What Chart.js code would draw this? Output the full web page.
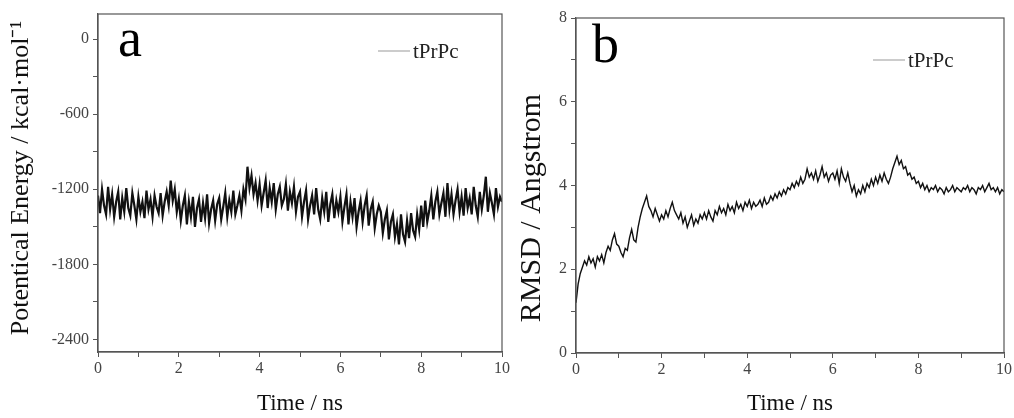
<!DOCTYPE html>
<html>
<head>
<meta charset="utf-8">
<script src="https://cdn.jsdelivr.net/npm/chart.js@4.4.1/dist/chart.umd.min.js"></script>
<style>
  body { margin: 0; background: #fff; }
  #wrap { position: relative; width: 1014px; height: 418px; }
  canvas { position: absolute; top: 0; }
  #energyChart { left: 0; }
  #rmsdChart { left: 512px; }
</style>
</head>
<body>
<div id="wrap">
  <canvas id="energyChart" width="512" height="418"></canvas>
  <canvas id="rmsdChart" width="502" height="418"></canvas>
</div>
<script>
// sampling of the trajectory (ns)
const sampleStep = 0.05;
const timeTicks = [0, 2, 4, 6, 8, 10];
const energyTicks = [-2400, -1800, -1200, -600, 0];
const rmsdTicks = [0, 2, 4, 6, 8];
const seriesName = "tPrPc";

// potential energy, kcal/mol
const energy = [
  -1250, -1390, -1200, -1330, -1400, -1180, -1360, -1240, -1420, -1300, -1220, -1440, -1270, -1380, -1190, -1350, -1410, -1230, -1330, -1440,
  -1260, -1380, -1300, -1430, -1210, -1360, -1280, -1420, -1250, -1340, -1390, -1230, -1410, -1300, -1220, -1330, -1130, -1290, -1200, -1380,
  -1280, -1450, -1330, -1250, -1480, -1300, -1420, -1260, -1500, -1350, -1280, -1460, -1310, -1430, -1240, -1470, -1360, -1290, -1450, -1320,
  -1270, -1440, -1340, -1230, -1420, -1290, -1380, -1210, -1400, -1330, -1250, -1370, -1200, -1280, -1020, -1190, -1090, -1240, -1150, -1290,
  -1160, -1330, -1230, -1130, -1350, -1190, -1300, -1150, -1360, -1240, -1180, -1330, -1280, -1160, -1370, -1220, -1310, -1180, -1380, -1260,
  -1220, -1420, -1300, -1210, -1440, -1330, -1250, -1400, -1190, -1360, -1440, -1270, -1380, -1220, -1460, -1320, -1240, -1430, -1290, -1380,
  -1260, -1460, -1340, -1240, -1480, -1300, -1420, -1270, -1500, -1380, -1290, -1460, -1330, -1250, -1490, -1360, -1300, -1510, -1400, -1330,
  -1380, -1550, -1440, -1370, -1600, -1460, -1400, -1580, -1480, -1640, -1400, -1560, -1620, -1450, -1590, -1390, -1530, -1580, -1400, -1520,
  -1330, -1500, -1290, -1460, -1370, -1250, -1440, -1300, -1220, -1400, -1310, -1230, -1420, -1150, -1360, -1240, -1400, -1290, -1200, -1380,
  -1260, -1410, -1190, -1350, -1270, -1400, -1180, -1330, -1420, -1220, -1360, -1250, -1100, -1380, -1230, -1310, -1400, -1190, -1340, -1260,
  -1300
];

// backbone RMSD, Angstrom
const rmsd = [
  1.20, 1.65, 1.90, 2.05, 2.20, 2.10, 2.30, 2.15, 2.25, 2.05, 2.30, 2.20, 2.35, 2.15, 2.40, 2.55, 2.45, 2.70, 2.85, 2.60,
  2.55, 2.40, 2.30, 2.50, 2.45, 2.75, 2.95, 2.70, 2.65, 3.00, 3.25, 3.45, 3.60, 3.75, 3.50, 3.40, 3.25, 3.45, 3.30, 3.15,
  3.30, 3.20, 3.40, 3.25, 3.45, 3.60, 3.40, 3.30, 3.20, 3.35, 3.10, 3.25, 3.00, 3.15, 3.30, 3.05, 3.20, 3.10, 3.30, 3.20,
  3.35, 3.20, 3.40, 3.25, 3.15, 3.40, 3.30, 3.50, 3.35, 3.45, 3.30, 3.55, 3.40, 3.50, 3.35, 3.60, 3.45, 3.55, 3.40, 3.60,
  3.50, 3.65, 3.45, 3.60, 3.50, 3.55, 3.65, 3.50, 3.70, 3.55, 3.60, 3.75, 3.65, 3.80, 3.70, 3.85, 3.75, 3.90, 3.80, 3.95,
  3.90, 4.05, 3.95, 4.10, 4.00, 4.20, 4.05, 4.15, 4.40, 4.20, 4.30, 4.15, 4.35, 4.10, 4.25, 4.45, 4.20, 4.30, 4.10, 4.25,
  4.30, 4.15, 4.35, 4.05, 4.40, 4.20, 4.10, 4.30, 4.05, 3.85, 4.00, 3.75, 3.90, 3.80, 4.00, 3.85, 4.05, 3.95, 4.15, 4.00,
  4.20, 4.05, 4.25, 4.10, 4.30, 4.15, 4.05, 4.20, 4.40, 4.55, 4.70, 4.50, 4.60, 4.40, 4.45, 4.25, 4.30, 4.15, 4.20, 4.05,
  4.10, 3.95, 4.05, 3.90, 4.00, 3.85, 3.95, 3.90, 4.00, 3.85, 3.95, 3.90, 3.80, 3.95, 3.85, 3.90, 4.00, 3.85, 3.95, 3.90,
  3.85, 3.95, 3.90, 4.00, 3.85, 3.95, 3.90, 3.80, 3.95, 3.90, 4.00, 3.85, 3.95, 4.05, 3.90, 3.95, 3.85, 3.95, 3.80, 3.90,
  3.85
];

const serif = "'Liberation Serif', 'Times New Roman', serif";
const axisColor = "#555";
const labelColor = "#444";

// major ticks from the arrays, minor ticks halfway between them
function withMinor(major) {
  const out = [];
  major.forEach((v, i) => {
    out.push({ value: v, major: true });
    if (i < major.length - 1) out.push({ value: (v + major[i + 1]) / 2, major: false });
  });
  return out;
}

// frame, panel letter, rotated y title and legend
const panelDecor = {
  id: "panelDecor",
  afterDraw(chart, args, opts) {
    const { ctx, chartArea: a } = chart;
    ctx.save();
    ctx.strokeStyle = axisColor;
    ctx.lineWidth = 1.2;
    ctx.strokeRect(a.left, a.top, a.right - a.left, a.bottom - a.top);

    ctx.fillStyle = "#000";
    ctx.font = "54px " + serif;
    ctx.textBaseline = "alphabetic";
    ctx.fillText(opts.letter, a.left + opts.letterDx, a.top + opts.letterDy);

    // y axis title
    ctx.save();
    ctx.translate(opts.yTitleX, opts.yTitleY);
    ctx.rotate(-Math.PI / 2);
    ctx.font = opts.yTitleSize + "px " + serif;
    ctx.fillStyle = "#111";
    ctx.textAlign = "center";
    ctx.textBaseline = "middle";
    ctx.fillText(opts.yTitle, 0, 0);
    ctx.restore();

    // legend
    ctx.strokeStyle = "#999";
    ctx.lineWidth = 1;
    ctx.beginPath();
    ctx.moveTo(opts.legendX, opts.legendY);
    ctx.lineTo(opts.legendX + 32, opts.legendY);
    ctx.stroke();
    ctx.fillStyle = "#222";
    ctx.font = "21px " + serif;
    ctx.textBaseline = "middle";
    ctx.fillText(seriesName, opts.legendX + 35, opts.legendY + 1);
    ctx.restore();
  }
};

function makeChart(id, values, yMin, yMax, yTicks, plotLeft, plotTop, plotBottom, lineWidth, decor) {
  const points = values.map((v, i) => ({ x: i * sampleStep, y: v }));
  const canvas = document.getElementById(id);
  return new Chart(canvas.getContext("2d"), {
    type: "line",
    data: {
      datasets: [{
        label: seriesName,
        data: points,
        borderColor: "#111",
        borderWidth: lineWidth,
        pointRadius: 0,
        tension: 0
      }]
    },
    plugins: [panelDecor],
    options: {
      responsive: false,
      animation: false,
      layout: { padding: { left: 0, top: plotTop, right: 7, bottom: 0 } },
      plugins: {
        legend: { display: false },
        tooltip: { enabled: false },
        panelDecor: decor
      },
      scales: {
        x: {
          type: "linear",
          min: 0,
          max: 10,
          afterBuildTicks: s => { s.ticks = withMinor(timeTicks); },
          afterFit: s => { s.height = canvas.height - plotBottom; },
          border: { color: axisColor, width: 1.2 },
          grid: { drawOnChartArea: false, tickLength: 5, tickColor: axisColor },
          ticks: {
            color: labelColor,
            font: { family: serif, size: 16 },
            padding: 2,
            maxRotation: 0,
            autoSkip: false,
            callback: v => timeTicks.includes(v) ? String(v) : ""
          },
          title: {
            display: true,
            text: "Time / ns",
            color: "#111",
            font: { family: serif, size: 23 },
            padding: { top: 4, bottom: 0 }
          }
        },
        y: {
          min: yMin,
          max: yMax,
          afterBuildTicks: s => { s.ticks = withMinor(yTicks); },
          afterFit: s => { s.width = plotLeft; },
          border: { color: axisColor, width: 1.2 },
          grid: { drawOnChartArea: false, tickLength: 5, tickColor: axisColor },
          ticks: {
            color: labelColor,
            font: { family: serif, size: 16 },
            padding: 4,
            autoSkip: false,
            callback: v => yTicks.includes(v) ? String(v) : ""
          }
        }
      }
    }
  });
}

makeChart("energyChart", energy, -2500, 200, energyTicks, 98, 14, 352, 2.2,
  { letter: "a", letterDx: 20, letterDy: 42, legendX: 378, legendY: 51,
    yTitle: "Potentical Energy / kcal\u00b7mol\u207b\u00b9", yTitleX: 21, yTitleY: 178, yTitleSize: 26 });

makeChart("rmsdChart", rmsd, 0, 8, rmsdTicks, 64, 18, 353, 1.4,
  { letter: "b", letterDx: 16, letterDy: 44, legendX: 361, legendY: 60,
    yTitle: "RMSD / Angstrom", yTitleX: 20, yTitleY: 208, yTitleSize: 30 });
</script>
</body>
</html>
